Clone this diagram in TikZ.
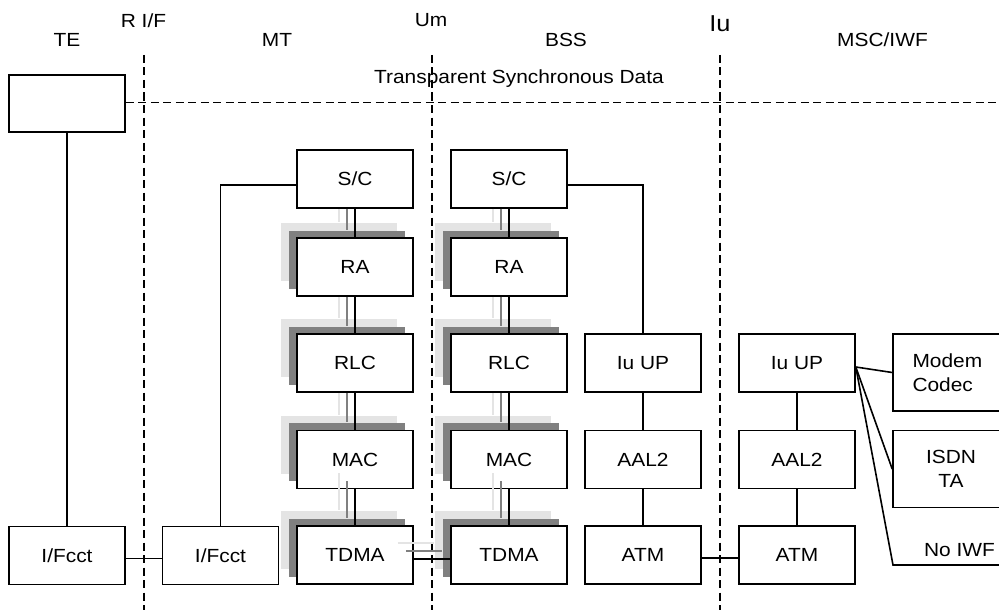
\documentclass[tikz,border=0pt]{standalone}
\usepackage{fontspec}
\setmainfont{Liberation Sans}[FakeStretch=1.1]
\usetikzlibrary{shadows}
\definecolor{lightshade}{RGB}{228,228,228}
\definecolor{darkshade}{RGB}{128,128,128}
\tikzstyle{every path}=[line width=1.6pt]
\tikzstyle{box}=[draw=black,fill=white,minimum width=116pt,minimum height=58pt,inner sep=0pt,font=\fontsize{19}{23}\selectfont]
\tikzstyle{shadowbox}=[box,general shadow={fill=lightshade,shadow xshift=-16pt,shadow yshift=15pt},general shadow={fill=darkshade,shadow xshift=-8pt,shadow yshift=7.5pt}]
\tikzstyle{hdr}=[anchor=base,inner sep=0pt,font=\fontsize{19}{23}\selectfont]
\tikzstyle{iface}=[dash pattern=on 8pt off 4.5pt]

\begin{document}
\begin{tikzpicture}[x=1pt,y=-1pt]
        \useasboundingbox (0,0) rectangle (999,610);
        %% The interfaces
        \foreach \x in {144,432,720}
        \draw[iface](\x,55)--(\x,610);
        \node[hdr] (hte) at (67,47) {TE};
        \node[hdr] (hrif) at (143.5,28) {R I/F};
        \node[hdr] (hmt) at (277,47) {MT};
        \node[hdr] (hum) at (431,27) {Um};
        \node[hdr] (hbss) at (566,47) {BSS};
        \node[hdr,font=\fontsize{23}{26}\selectfont] (hiu) at (720,31.5) {Iu};
        \node[hdr] (hmsc) at (882.5,47) {MSC/IWF};
        \node[hdr] (htsd) at (519,84) {Transparent Synchronous Data};

        %% TE
        \node[box,minimum height=57pt] (te) at (67,103.5) {};
        \node[box] (ifte) at (67,555.5) {I/Fcct};
        \draw[iface]([yshift=1pt]te.east)--++(874,0);
        \draw(te.south)--(ifte.north);

        %%% MT and BSS stacks
        \node[box] (ifmt) at (220.5,555.5) {I/Fcct};
        \node[box] (scmt) at (355,179) {S/C};
        \node[box] (scbss) at (509,179) {S/C};
        \foreach \name/\txt/\y in {ra/RA/267,rlc/RLC/363,mac/MAC/459.5,tdma/TDMA/555}
        {
        \node[shadowbox] (\name mt) at (355,\y) {\txt};
        \node[shadowbox] (\name bss) at (509,\y) {\txt};
        }
        \foreach \col in {mt,bss}
        \foreach \a/\b in {sc/ra,ra/rlc,rlc/mac,mac/tdma}
        {
        \draw[lightshade]([xshift=-16pt]\a\col.south)--([xshift=-16pt,yshift=15pt]\b\col.north);
        \draw[darkshade]([xshift=-8pt]\a\col.south)--([xshift=-8pt,yshift=7.5pt]\b\col.north);
        \draw(\a\col.south)--(\b\col.north);
        }
        %% shadows over the MAC boxes
        \foreach \col in {mt,bss}
        {
        \draw[lightshade]([xshift=-16pt,yshift=16pt]mac\col.south)--([xshift=-16pt,yshift=15pt]tdma\col.north);
        \draw[darkshade]([xshift=-8pt,yshift=8pt]mac\col.south)--([xshift=-8pt,yshift=7.5pt]tdma\col.north);
        }
        \draw[lightshade]([xshift=-16pt,yshift=12pt]tdmamt.east)--([xshift=-16pt,yshift=12pt]tdmabss.west);
        \draw[darkshade]([xshift=-8pt,yshift=4pt]tdmamt.east)--([xshift=-8pt,yshift=4pt]tdmabss.west);
        \draw([yshift=-4pt]tdmamt.east)--([yshift=-4pt]tdmabss.west);
        \draw([yshift=-3pt]ifte.east)--([yshift=-3pt]ifmt.west);
        \draw(ifmt.north)|-([yshift=-6pt]scmt.west);

        %%% BSS and MSC/IWF
        \node[box] (iubss) at (643,363) {Iu UP};
        \node[box] (aalbss) at (643,459.5) {AAL2};
        \node[box] (atmbss) at (643,555) {ATM};
        \node[box] (iumsc) at (797,363) {Iu UP};
        \node[box] (aalmsc) at (797,459.5) {AAL2};
        \node[box] (atmmsc) at (797,555) {ATM};
        \draw([yshift=-6pt]scbss.east)-|(iubss.north);
        \draw(iubss)--(aalbss)--(atmbss);
        \draw(iumsc)--(aalmsc)--(atmmsc);
        \draw([yshift=-3pt]atmbss.east)--([yshift=-3pt]atmmsc.west);

        %% Outer leads
        \node[box,minimum height=77pt,align=left,text width=77pt,font=\fontsize{19}{23.5}\selectfont] (modem) at (951,372.5) {Modem\\Codec};
        \node[box,minimum height=77pt,align=center,font=\fontsize{19}{24}\selectfont] (isdn) at (951,469) {ISDN\\TA};
        \node[hdr] (nolbl) at (959.5,556.7) {No IWF};
        \coordinate (iuout) at ([yshift=-4pt]iumsc.east);
        \coordinate (noiwf) at (893,565);
        \draw(iuout)--(modem.west);
        \draw(iuout)--(isdn.west);
        \draw(iuout)--(noiwf)--++(110,0);
    \end{tikzpicture}
\end{document}
